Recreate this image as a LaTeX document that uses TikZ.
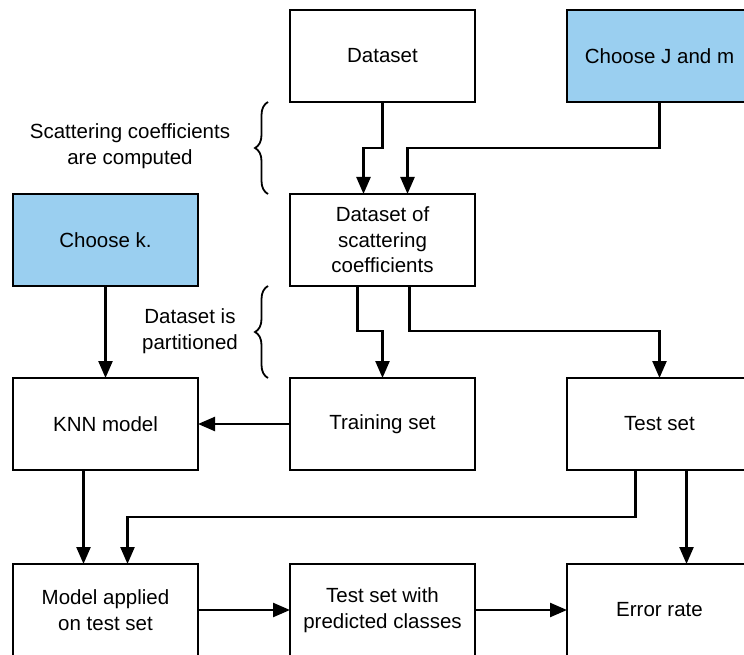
\documentclass[tikz,border=0pt]{standalone}
\usepackage{fontspec}
\setmainfont{Liberation Sans}
\usepackage{tikz}
\usetikzlibrary{arrows.meta,positioning,calc,decorations.pathreplacing}
\definecolor{choiceblue}{HTML}{9ACFF0}

\begin{document}
\begin{tikzpicture}[x=1pt, y=-1pt, font=\fontsize{20.5}{25.5}\selectfont,
  node distance=92pt and 92pt,
  bx/.style={draw=black, fill=white, line width=2.6pt, minimum width=185pt, minimum height=92pt, outer sep=0pt, align=center, inner sep=2pt},
  cx/.style={bx, fill=choiceblue},
  ar/.style={line width=2.4pt, -{Triangle[length=17pt,width=14pt]}},
  br/.style={line width=1.8pt, decorate, decoration={brace, amplitude=13pt}}]
  \clip (0,0) rectangle (744,655);
  \node[bx] (data) at (382.5,56) {Dataset};
  \node[cx, right=of data] (jm) {Choose J and m};
  \node[bx, below=of data] (scat) {Dataset of\\scattering\\coefficients};
  \node[bx, below=of scat] (train) {Training set};
  \node[bx, left=of train] (knn) {KNN model};
  \node[bx, right=of train] (test) {Test set};
  \node[cx, above=of knn] (k) {Choose k.};
  \node[bx, below=of knn, yshift=-2pt] (model) {Model applied\\on test set};
  \node[bx, below=of train, yshift=-2pt] (pred) {Test set with\\predicted classes};
  \node[bx, below=of test, yshift=-2pt] (err) {Error rate};
  % side notes
  \node[align=center] (lblcomp) at (130,146) {Scattering coefficients\\are computed};
  \node[align=center] (lblpart) at (190,331) {Dataset is\\partitioned};
  \draw[br] ([xshift=-22pt]scat.north west) -- ([xshift=-22pt]data.south west);
  \draw[br] ([xshift=-22pt]train.north west) -- ([xshift=-22pt]scat.south west);
  % arrows
  \draw[ar] (data.south) -- ++(0,46) -| ([xshift=-19pt]scat.north);
  \draw[ar] (jm.south) -- ++(0,46) -| ([xshift=25pt]scat.north);
  \draw[ar] ([xshift=-25pt]scat.south) -- ++(0,45) -| (train.north);
  \draw[ar] ([xshift=27pt]scat.south) -- ++(0,45) -| (test.north);
  \draw[ar] (k) -- (knn);
  \draw[ar] (train) -- (knn);
  \draw[ar] ([xshift=-22pt]knn.south) -- ([xshift=-22pt]model.north);
  \draw[ar] ([xshift=-24pt]test.south) -- ++(0,47) -| ([xshift=22pt]model.north);
  \draw[ar] ([xshift=27pt]test.south) -- ([xshift=27pt]err.north);
  \draw[ar] (model) -- (pred);
  \draw[ar] (pred) -- (err);
\end{tikzpicture}
\end{document}
